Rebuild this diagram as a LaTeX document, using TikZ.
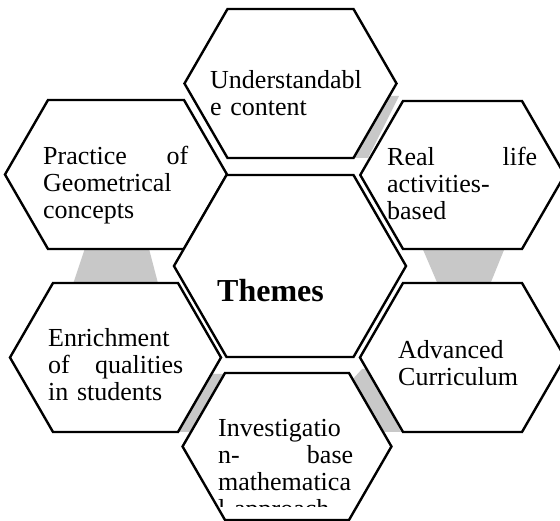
\documentclass[tikz,border=0pt]{standalone}
\usepackage{fontspec}
\setmainfont{Liberation Serif}
\usetikzlibrary{calc}
\definecolor{linkgray}{RGB}{200,200,200}
\newcommand{\spread}[3]{\leavevmode\hbox to #1{#2\hfill #3}}

\tikzset{hexa/.style={draw, line width=2.4pt, fill=white},
 link/.style={fill=linkgray},
 theme/.style={inner sep=0pt, anchor=base west, align=left, font=\fontsize{26}{27}\selectfont}}

\begin{document}
\begin{tikzpicture}[x=1pt, y=-1pt]
\useasboundingbox (0,0) rectangle (560,521);
\clip (0,0) rectangle (560,521);
% grey links between the outer cells
\fill[link] (86,245) -- (148,245) -- (159,287) -- (72,287) -- cycle;
\fill[link] (421,245) -- (506,245) -- (489,287) -- (439,287) -- cycle;
\fill[link] (380,96) -- (399,96) -- (368,158) -- (345,158) -- cycle;
\fill[link] (352,380) -- (362,369) -- (369,369) -- (401,432) -- (370,432) -- cycle;
\fill[link] (205,374) -- (224,374) -- (195,432) -- (175,432) -- cycle;
% cells: centre x / centre y / half top edge / half height
\foreach \cx/\cy/\b/\h in {290.5/83.5/63/74.5, 116/174.5/68/74.5, 290/266/63.5/91,
  462.5/175/59.5/74, 115.5/357.5/62.5/74.5, 462.5/357.5/59.5/74.5, 287/446.5/62/73.5}
  \draw[hexa] ({\cx-\b-0.5774*\h},\cy) -- ({\cx-\b},{\cy-\h}) -- ({\cx+\b},{\cy-\h})
    -- ({\cx+\b+0.5774*\h},\cy) -- ({\cx+\b},{\cy+\h}) -- ({\cx-\b},{\cy+\h}) -- cycle;

\node[theme, text width=160pt] (under) at (210,89) {Understandabl\\e content};
\node[theme, text width=145pt] (practice) at (43,165) {\spread{145pt}{Practice}{of}\\Geometrical\\concepts};
\node[theme, text width=150pt] (real) at (387,166) {\spread{150pt}{Real}{life}\\activities-\\based};
\node[theme, font=\bfseries\fontsize{32}{34}\selectfont] (themes) at (217,302) {Themes};
\node[theme, text width=135pt] (enrich) at (48,347) {Enrichment\\\spread{135pt}{of}{qualities}\\in students};
\node[theme, text width=150pt] (advanced) at (398,359) {Advanced\\Curriculum};
\begin{scope}
\clip (0,0) rectangle (560,506);
\node[theme, text width=135pt] (invest) at (218,437) {Investigatio\\\spread{135pt}{n-}{base}\\mathematica\\l approach};
\end{scope}
\end{tikzpicture}
\end{document}
